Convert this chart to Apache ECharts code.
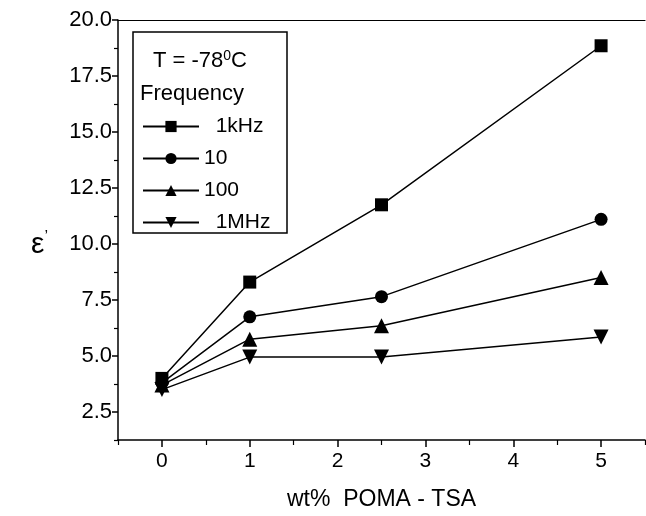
<!DOCTYPE html>
<html><head><meta charset="utf-8">
<script src="https://cdn.jsdelivr.net/npm/echarts@6/dist/echarts.min.js"></script>
<style>html,body{margin:0;padding:0;background:#fff}#c{width:646px;height:516px}</style>
</head><body><div id="c"></div>
<script>
const xValues = [0, 1, 2.5, 5];
const seriesNames = ['  1kHz', '10', '100', '  1MHz'];
const s1kHz = [4.0, 8.3, 11.75, 18.85];
const s10 = [3.8, 6.75, 7.65, 11.1];
const s100 = [3.7, 5.75, 6.35, 8.5];
const s1MHz = [3.5, 4.95, 4.95, 5.85];
const yTickLabels = [2.5, 5.0, 7.5, 10.0, 12.5, 15.0, 17.5, 20.0];
const yMinorTicks = [1.25, 3.75, 6.25, 8.75, 11.25, 13.75, 16.25, 18.75];
const xTickLabels = [0, 1, 2, 3, 4, 5];
const xMinorTicks = [-0.5, 0.5, 1.5, 2.5, 3.5, 4.5, 5.5];

const font = 'Liberation Sans, Arial, sans-serif';
const symbols = [
  {symbol: 'rect', size: 13, rotate: 0},
  {symbol: 'circle', size: 13, rotate: 0},
  {symbol: 'triangle', size: 15, rotate: 0},
  {symbol: 'triangle', size: 15, rotate: 180}
];
const allData = [s1kHz, s10, s100, s1MHz];

const chart = echarts.init(document.getElementById('c'));
const series = allData.map((vals, i) => ({
  name: seriesNames[i],
  type: 'line',
  data: vals.map((v, j) => [xValues[j], v]),
  symbol: symbols[i].symbol,
  symbolSize: symbols[i].size,
  symbolRotate: symbols[i].rotate,
  showAllSymbol: true,
  lineStyle: {color: '#000', width: 1.5},
  itemStyle: {color: '#000'},
  z: 5 - i,
  animation: false
}));

chart.setOption({
  animation: false,
  backgroundColor: '#fff',
  grid: {left: 118, top: 20, right: 1, bottom: 69},
  legend: {
    orient: 'vertical', left: 137, top: 111, itemGap: 11,
    itemWidth: 56, itemHeight: 14,
    textStyle: {fontFamily: font, fontSize: 21, color: '#000'},
    data: seriesNames.map(n => ({name: n})),
    selectedMode: false
  },
  xAxis: [{
    type: 'value', min: -0.5, max: 5.5,
    name: 'wt%  POMA - TSA', nameLocation: 'middle', nameGap: 48,
    nameTextStyle: {fontFamily: font, fontSize: 23, color: '#000'},
    axisLine: {onZero: false, lineStyle: {color: '#000', width: 1.5}},
    axisTick: {customValues: xTickLabels, length: 7, lineStyle: {color: '#000', width: 1.5}},
    axisLabel: {customValues: xTickLabels, fontFamily: font, fontSize: 21, color: '#000', margin: 11},
    splitLine: {show: false}
  }, {
    type: 'value', min: -0.5, max: 5.5, position: 'bottom',
    axisLine: {show: false, onZero: false},
    axisTick: {customValues: xMinorTicks, length: 5, lineStyle: {color: '#000', width: 1.2}},
    axisLabel: {show: false}, splitLine: {show: false}
  }, {
    type: 'value', min: -0.5, max: 5.5, position: 'top',
    axisLine: {onZero: false, lineStyle: {color: '#000', width: 1.2}},
    axisTick: {show: false}, axisLabel: {show: false}, splitLine: {show: false}
  }],
  yAxis: [{
    type: 'value', min: 1.25, max: 20,
    name: '{e|ε}{p|’}', nameLocation: 'middle', nameGap: 70, nameRotate: 0,
    nameTextStyle: {padding: [30, 0, 0, 0], rich: {
      e: {fontFamily: font, fontSize: 30, color: '#000'},
      p: {fontFamily: font, fontSize: 16, color: '#000', verticalAlign: 'top', padding: [0, 0, 14, 0]}
    }},
    axisLine: {onZero: false, lineStyle: {color: '#000', width: 1.5}},
    axisTick: {customValues: yTickLabels, length: 6, lineStyle: {color: '#000', width: 1.5}},
    axisLabel: {customValues: yTickLabels, fontFamily: font, fontSize: 22, color: '#000', margin: 6,
      formatter: v => v.toFixed(1)},
    splitLine: {show: false}
  }, {
    type: 'value', min: 1.25, max: 20, position: 'left',
    axisLine: {show: false, onZero: false},
    axisTick: {customValues: yMinorTicks, length: 4, lineStyle: {color: '#000', width: 1.2}},
    axisLabel: {show: false}, splitLine: {show: false}
  }],
  graphic: [
    {type: 'rect', shape: {x: 133, y: 32, width: 154, height: 201},
     style: {fill: 'none', stroke: '#000', lineWidth: 1.5}, z: 10},
    {type: 'text', left: 153, top: 49, z: 10,
     style: {text: '{a|T = -78}{s|0}{a|C}', rich: {
       a: {fontFamily: font, fontSize: 22, fill: '#000'},
       s: {fontFamily: font, fontSize: 14, fill: '#000', verticalAlign: 'top', padding: [0, 0, 10, 0]}
     }}},
    {type: 'text', left: 140, top: 83, z: 10,
     style: {text: 'Frequency', font: '22px ' + font, fill: '#000'}}
  ],
  series: series
});
</script></body></html>
